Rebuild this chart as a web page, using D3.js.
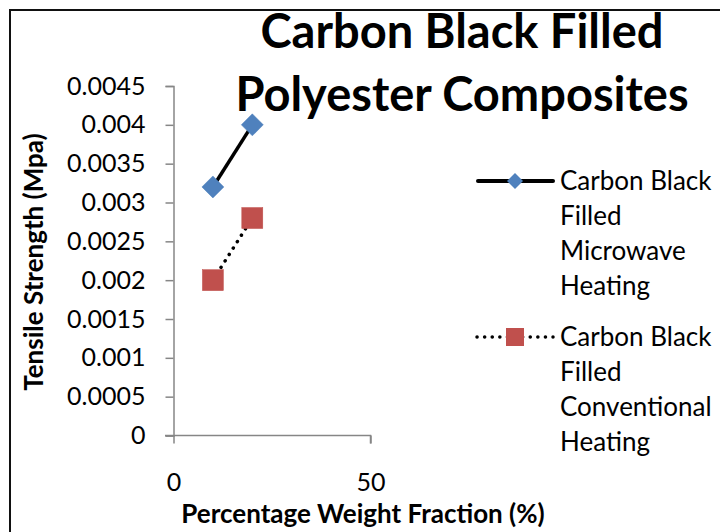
<!DOCTYPE html>
<html>
<head>
<meta charset="utf-8">
<script src="https://cdn.jsdelivr.net/npm/d3@7"></script>
<style>
  body { margin: 0; background: #fff; }
  svg { display: block; font-family: Lato, "Noto Sans", sans-serif; }
</style>
</head>
<body>
<svg id="chart" width="720" height="532"></svg>
<script>
// ---- data ----
const xValues = [10, 20];
const microwaveValues = [0.0032, 0.004];
const conventionalValues = [0.002, 0.0028];
const seriesNames = [
  ["Carbon Black", "Filled", "Microwave", "Heating"],
  ["Carbon Black", "Filled", "Conventional", "Heating"]
];
const yTicks = [0, 0.0005, 0.001, 0.0015, 0.002, 0.0025, 0.003, 0.0035, 0.004, 0.0045];
const yTickLabels = ["0", "0.0005", "0.001", "0.0015", "0.002", "0.0025", "0.003", "0.0035", "0.004", "0.0045"];
const xTicks = [0, 50];
const titleLines = ["Carbon Black Filled", "Polyester Composites"];
const xTitle = "Percentage Weight Fraction (%)";
const yTitle = "Tensile Strength (Mpa)";

const svg = d3.select("#chart");

// border (top and left visible)
svg.append("line").attr("x1", 9).attr("x2", 720).attr("y1", 10).attr("y2", 10)
  .attr("stroke", "#111").attr("stroke-width", 2);
svg.append("line").attr("x1", 10).attr("x2", 10).attr("y1", 9).attr("y2", 532)
  .attr("stroke", "#111").attr("stroke-width", 2);

const x = d3.scaleLinear().domain([0, 50]).range([173.5, 370.5]);
const y = d3.scaleLinear().domain([0, 0.0045]).range([435.5, 86]);

const axisColor = "#868686";

// y axis
const yAxis = d3.axisLeft(y).tickValues(yTicks)
  .tickFormat((d, i) => yTickLabels[i]).tickSize(8).tickPadding(20);
const gy = svg.append("g").attr("transform", "translate(173.5,0)").call(yAxis);
gy.select(".domain").attr("stroke", axisColor).attr("stroke-width", 1.5);
gy.selectAll(".tick line").attr("stroke", axisColor).attr("stroke-width", 1.5);
gy.selectAll(".tick text").attr("font-size", 25).attr("fill", "#000")
  .attr("font-family", "Lato, sans-serif");

// x axis
const xAxis = d3.axisBottom(x).tickValues(xTicks).tickSize(8).tickPadding(30);
const gx = svg.append("g").attr("transform", "translate(0,435.5)").call(xAxis);
gx.select(".domain").attr("stroke", axisColor).attr("stroke-width", 1.5)
  .attr("d", "M165,0H370.5V8");
gx.selectAll(".tick line").attr("stroke", axisColor).attr("stroke-width", 1.5);
gx.selectAll(".tick text").attr("font-size", 25).attr("fill", "#000")
  .attr("font-family", "Lato, sans-serif");

// lines
const m = xValues.map((d, i) => [d, microwaveValues[i]]);
const c = xValues.map((d, i) => [d, conventionalValues[i]]);
const line = d3.line().x(d => x(d[0])).y(d => y(d[1]));

svg.append("path").attr("d", line(m)).attr("fill", "none")
  .attr("stroke", "#000").attr("stroke-width", 3.5);
svg.append("path").attr("d", line(c)).attr("fill", "none")
  .attr("stroke", "#000").attr("stroke-width", 3.5)
  .attr("stroke-linecap", "round").attr("stroke-dasharray", "0.1,7.5");

const diamond = (cx, cy, r) => `M${cx},${cy - r}L${cx + r},${cy}L${cx},${cy + r}L${cx - r},${cy}Z`;

svg.selectAll(".dia").data(m).enter().append("path")
  .attr("d", d => diamond(x(d[0]), y(d[1]), 11))
  .attr("fill", "#4F81BD").attr("stroke", "#4F81BD").attr("stroke-width", 0.5);
svg.selectAll(".sq").data(c).enter().append("rect")
  .attr("x", d => x(d[0]) - 10.5).attr("y", d => y(d[1]) - 10.5)
  .attr("width", 21).attr("height", 21)
  .attr("fill", "#C0504D").attr("stroke", "#C0504D").attr("stroke-width", 0.5);

// title
svg.append("text").attr("text-anchor", "middle").attr("font-weight", "bold")
  .attr("font-size", 47).attr("fill", "#000")
  .selectAll("tspan").data(titleLines).enter().append("tspan")
  .attr("x", 462).attr("y", (d, i) => 48 + i * 63).text(d => d);

// axis titles
svg.append("text").attr("x", 363).attr("y", 523).attr("text-anchor", "middle")
  .attr("font-weight", "bold").attr("font-size", 26).attr("fill", "#000").text(xTitle);
svg.append("text").attr("transform", "translate(43,262) rotate(-90)")
  .attr("text-anchor", "middle").attr("font-weight", "bold").attr("font-size", 26)
  .attr("fill", "#000").text(yTitle);

// legend
const legY = [181, 337];
const lg = svg.append("g");
// entry 1
lg.append("line").attr("x1", 478).attr("x2", 553).attr("y1", legY[0]).attr("y2", legY[0])
  .attr("stroke", "#000").attr("stroke-width", 4).attr("stroke-linecap", "round");
lg.append("path").attr("d", diamond(515, legY[0], 8)).attr("fill", "#4F81BD");
// entry 2
lg.append("line").attr("x1", 477).attr("x2", 553).attr("y1", legY[1]).attr("y2", legY[1])
  .attr("stroke", "#000").attr("stroke-width", 3.5).attr("stroke-linecap", "round")
  .attr("stroke-dasharray", "0.1,7.5");
lg.append("rect").attr("x", 506).attr("y", legY[1] - 9).attr("width", 18).attr("height", 18)
  .attr("fill", "#C0504D");

seriesNames.forEach((lines, k) => {
  lg.append("text").attr("font-size", 26).attr("fill", "#000")
    .selectAll("tspan").data(lines).enter().append("tspan")
    .attr("x", 560).attr("y", (d, i) => legY[k] + 9 + i * 35).text(d => d);
});
</script>
</body>
</html>
